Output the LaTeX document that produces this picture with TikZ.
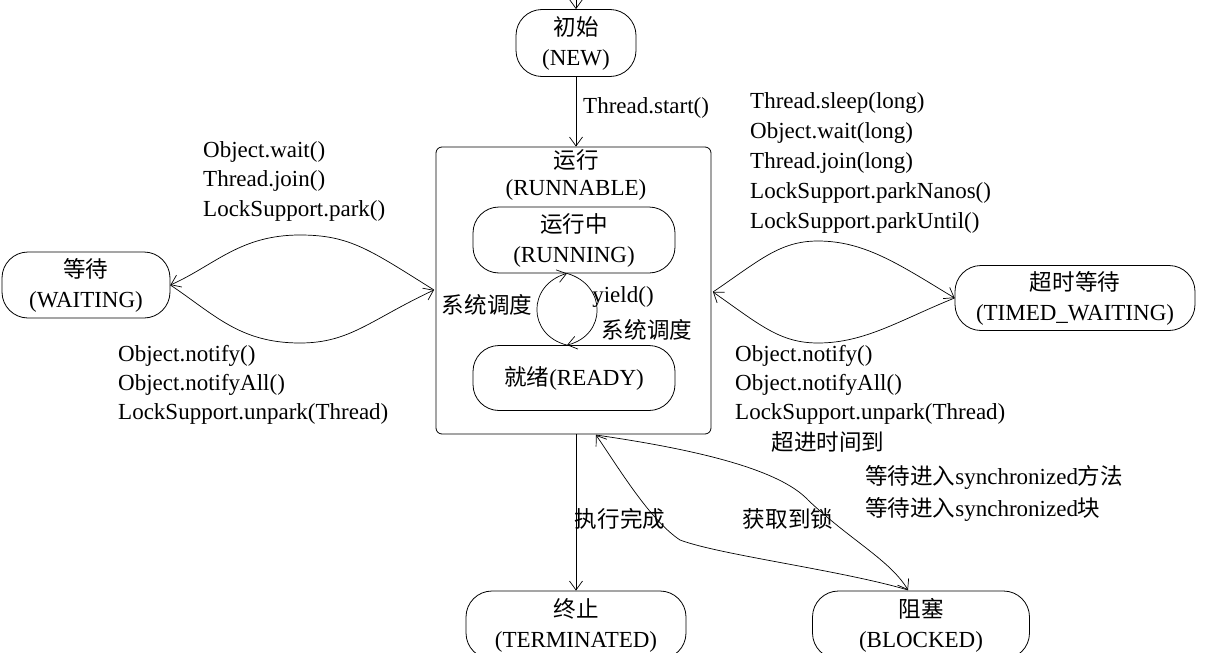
\documentclass[tikz,border=0pt]{standalone}
\usepackage{fontspec}
\setmainfont{Liberation Serif}
\newfontfamily\cjk{Noto Sans CJK SC}[Scale=0.98]
\newcommand{\zh}[1]{{\cjk #1}}
\usetikzlibrary{arrows.meta}
\begin{document}
\begin{tikzpicture}[x=1pt,y=-1pt,
  every node/.style={font=\fontsize{23}{30}\selectfont},
  st/.style={draw,rounded corners=26pt,align=center,inner sep=0pt,line width=0.8pt},
  lab/.style={anchor=west,inner sep=0pt},
  ln/.style={line width=0.7pt},
  ar/.style={ln,-{Straight Barb[length=9pt,width=13pt,line width=0.7pt]}}]
\useasboundingbox (0,0) rectangle (1224,653);
\node[st,minimum width=120pt,minimum height=67pt] (new) at (576,43) {\zh{初始}\\(NEW)};
\coordinate (top) at (576,0);
\draw[ar] (top) -- (new);
\node[draw,rounded corners=6pt,line width=0.8pt,minimum width=275pt,minimum height=287pt] (run) at (573.5,290.5) {};
\node at (576,160) (yx) {\zh{运行}};
\node at (576,190) (rb) {(RUNNABLE)};
\node[st,minimum width=202pt,minimum height=66pt] (ring) at (574,240) {\zh{运行中}\\(RUNNING)};
\node[st,minimum width=202pt,minimum height=65pt] (ready) at (574,378) {\zh{就绪}(READY)};
\draw[ar] (new) -- (run.north -| new);
\node[lab] at (583,108) {Thread.start()};
% loop
\draw[ar] ([xshift=-7pt]ready.north) .. controls (527,335) and (527,285) .. ([xshift=-7pt]ring.south);
\draw[ar] ([xshift=-7pt]ring.south) .. controls (607,285) and (607,335) .. ([xshift=-7pt]ready.north);
\node at (487,305) {\zh{系统调度}};
\node at (623,297) {yield()};
\node at (647,330) {\zh{系统调度}};
% waiting
\node[st,minimum width=168pt,minimum height=66pt] (wait) at (86,285) {\zh{等待}\\(WAITING)};
\coordinate (rl) at (434,290);
\draw[ar] (rl) .. controls (370,250) and (350,235) .. (300,235) .. controls (240,235) and (215,265) .. (wait.east);
\draw[ar] (wait.east) .. controls (215,315) and (240,343) .. (300,343) .. controls (350,343) and (370,320) .. (rl);
\node[lab] at (203,152) {Object.wait()};
\node[lab] at (203,181) {Thread.join()};
\node[lab] at (203,211) {LockSupport.park()};
\node[lab] at (118,356) {Object.notify()};
\node[lab] at (118,385) {Object.notifyAll()};
\node[lab] at (118,414) {LockSupport.unpark(Thread)};
% timed
\node[st,minimum width=240pt,minimum height=65pt] (tw) at (1075,298) {\zh{超时等待}\\(TIMED\_WAITING)};
\coordinate (rr) at (713,292);
\draw[ar] (rr) .. controls (760,260) and (780,241) .. (818,241) .. controls (865,241) and (900,265) .. (tw.west);
\draw[ar] (tw.west) .. controls (900,320) and (865,343) .. (818,343) .. controls (780,343) and (760,325) .. (rr);
\node[lab] at (750,103) {Thread.sleep(long)};
\node[lab] at (750,133) {Object.wait(long)};
\node[lab] at (750,163) {Thread.join(long)};
\node[lab] at (750,193) {LockSupport.parkNanos()};
\node[lab] at (750,223) {LockSupport.parkUntil()};
\node[lab] at (735,356) {Object.notify()};
\node[lab] at (735,385) {Object.notifyAll()};
\node[lab] at (735,414) {LockSupport.unpark(Thread)};
% terminated / blocked
\node[st,minimum width=220pt,minimum height=68pt] (term) at (576,625) {\zh{终止}\\(TERMINATED)};
\coordinate (bot) at (576,653);
\draw[ln] (term) -- (bot);
\draw[ar] (run.south-|term) -- (term);
\node at (620,519) {\zh{执行完成}};
\node[st,minimum width=217pt,minimum height=68pt] (blk) at (921,625) {\zh{阻塞}\\(BLOCKED)};
\coordinate (ra) at (596,435);
\coordinate (bt) at (908,590);
\draw[ar] (ra) .. controls (700,450) and (780,470) .. (808,500) .. controls (850,540) and (890,560) .. (bt);
\draw[ar] (bt) .. controls (840,570) and (720,555) .. (680,540) .. controls (650,520) and (620,470) .. (ra);
\node at (828,442) {\zh{超进时间到}};
\node[lab] at (865,477) {\zh{等待进入}synchronized\zh{方法}};
\node[lab] at (865,509) {\zh{等待进入}synchronized\zh{块}};
\node at (788,519) {\zh{获取到锁}};
\end{tikzpicture}
\end{document}
